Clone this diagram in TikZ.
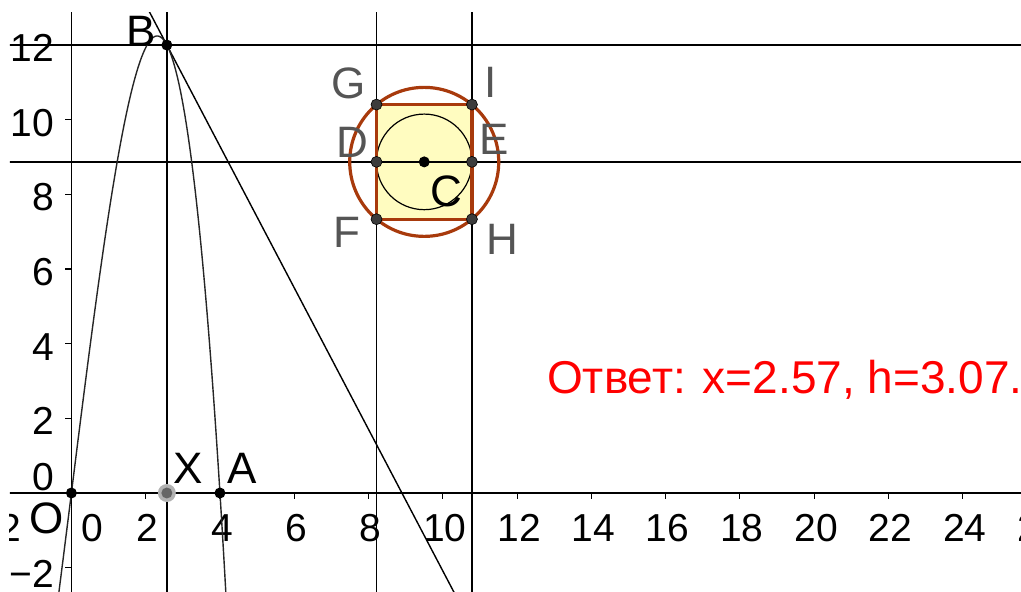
\documentclass[tikz,border=0pt]{standalone}
\usepackage{fontspec}
\setmainfont{Liberation Sans}
\usetikzlibrary{calc}
\definecolor{brownc}{RGB}{168,58,12}
\definecolor{fillc}{RGB}{255,252,192}
\definecolor{ptgray}{RGB}{60,60,60}
\definecolor{lblgray}{RGB}{85,85,85}
\definecolor{ansred}{RGB}{255,0,0}
\begin{document}
\begin{tikzpicture}[x=37.14pt,y=37.33pt,
  gline/.style={black,line width=1.4pt},
  curvestyle/.style={black!85,line width=1.4pt},
  tickstyle/.style={black,line width=1.1pt},
  axlbl/.style={inner sep=0pt,font=\fontsize{39}{39}\selectfont},
  ptlbl/.style={inner sep=0pt,font=\fontsize{44}{44}\selectfont},
  grlbl/.style={ptlbl,text=lblgray},
  blackpt/.style={circle,fill=black,inner sep=0pt,minimum size=11pt},
  graypt/.style={circle,fill=ptgray,draw=black,line width=0.6pt,inner sep=0pt,minimum size=11pt},
  brownline/.style={brownc,line width=3.2pt}]
\useasboundingbox (-71.4pt,-99pt) rectangle (949.6pt,493pt);
\begin{scope}
\clip (-61.4pt,-99pt) rectangle (949.6pt,480pt);
% named points
\coordinate (O) at (0,0);
\coordinate (A) at (4,0);
\coordinate (X) at (2.57,0);
\coordinate (B) at (2.57,12.0);
\coordinate (C) at (9.5,8.87);
\coordinate (D) at ($(C)+(-1.285,0)$);
\coordinate (E) at ($(C)+(1.285,0)$);
\coordinate (G) at ($(C)+(-1.285,1.535)$);
\coordinate (I) at ($(C)+(1.285,1.535)$);
\coordinate (F) at ($(C)+(-1.285,-1.535)$);
\coordinate (H) at ($(C)+(1.285,-1.535)$);
% rectangle fill
\fill[fillc] (F) rectangle (I);
% axes
\coordinate (xl) at (-3,0); \coordinate (xr) at (27,0);
\coordinate (yb) at (0,-3); \coordinate (yt) at (0,14);
\draw[gline] (xl) -- (xr);
\draw[gline] (yb) -- (yt);
\foreach \k in {-2,2,4,...,26} {\draw[tickstyle] (\k,0) -- ++(0,-6pt);}
\foreach \k in {-2,2,4,...,12} {\draw[tickstyle] (0,\k) -- ++(-6pt,0);}
\foreach \k in {2,4,...,26} {\node[axlbl] at ($(\k,0)+(2pt,-35pt)$) {\k};}
\node[axlbl] at ($(-2,0)+(2pt,-35pt)$) {−2};
\node[axlbl] at (20.6pt,-35pt) {0};
\foreach \k in {2,4,...,12} {\node[axlbl,anchor=east] at ($(0,\k)+(-17pt,-3pt)$) {\k};}
\node[axlbl,anchor=east] at (-17pt,16pt) {0};
\node[axlbl,anchor=east] at ($(0,-2)+(-17pt,-6pt)$) {−2};
% construction lines
\draw[gline] ($(B)+(-5,0)$) -- ($(B)+(25,0)$);
\draw[gline] ($(C)+(-13,0)$) -- ($(C)+(20,0)$);
\draw[gline] ($(X)+(0,-3)$) -- ($(X)+(0,14)$);
\draw[gline] ($(D)+(0,-12)$) -- ($(D)+(0,6)$);
\draw[gline] ($(E)+(0,-12)$) -- ($(E)+(0,6)$);
% tangent line at B
\coordinate (T1) at ($(B)+(-1,1.896)$);
\coordinate (T2) at ($(B)+(9,-17.064)$);
\draw[gline] (T1) -- (T2);
% curve
\draw[curvestyle] plot[domain=-0.45:4.35,samples=160,smooth] (\x,{0.497*\x*(16-\x*\x)});
% circles
\draw[black,line width=1.2pt] (C) circle[radius=47.8pt];
\draw[brownline] (C) circle[radius=74.5pt];
\draw[brownline,line join=miter] (F) rectangle (I);
% points
\node[blackpt] (pO) at (O) {};
\node[blackpt] (pA) at (A) {};
\node[blackpt] (pB) at (B) {};
\node[blackpt] (pC) at (C) {};
\node[circle,fill=black!30,inner sep=0pt,minimum size=18pt] (pXh) at (X) {};
\node[circle,fill=black!60,inner sep=0pt,minimum size=11pt] (pX) at (X) {};
\foreach \p in {D,E,F,G,H,I} {\node[graypt] (p\p) at (\p) {};}
% labels
\node[ptlbl] (lB) at ($(B)+(-26pt,14pt)$) {B};
\node[ptlbl] (lO) at ($(O)+(-24.4pt,-25pt)$) {O};
\node[ptlbl] (lX) at ($(X)+(21pt,25pt)$) {X};
\node[ptlbl] (lA) at ($(A)+(22pt,25pt)$) {A};
\node[ptlbl] (lC) at ($(C)+(22pt,-29.5pt)$) {C};
\node[grlbl] (lD) at ($(D)+(-24pt,19.5pt)$) {D};
\node[grlbl] (lE) at ($(E)+(22pt,22.5pt)$) {E};
\node[grlbl] (lG) at ($(G)+(-28pt,21pt)$) {G};
\node[grlbl] (lI) at ($(I)+(19pt,22pt)$) {I};
\node[grlbl] (lF) at ($(F)+(-30pt,-13pt)$) {F};
\node[grlbl] (lH) at ($(H)+(30pt,-20pt)$) {H};
% answer
\node[anchor=base west,inner sep=0pt,text=ansred,font=\fontsize{46}{46}\selectfont] (ans) at (475.6pt,99pt) {Ответ: x=2.57, h=3.07.};
\end{scope}
\end{tikzpicture}
\end{document}
